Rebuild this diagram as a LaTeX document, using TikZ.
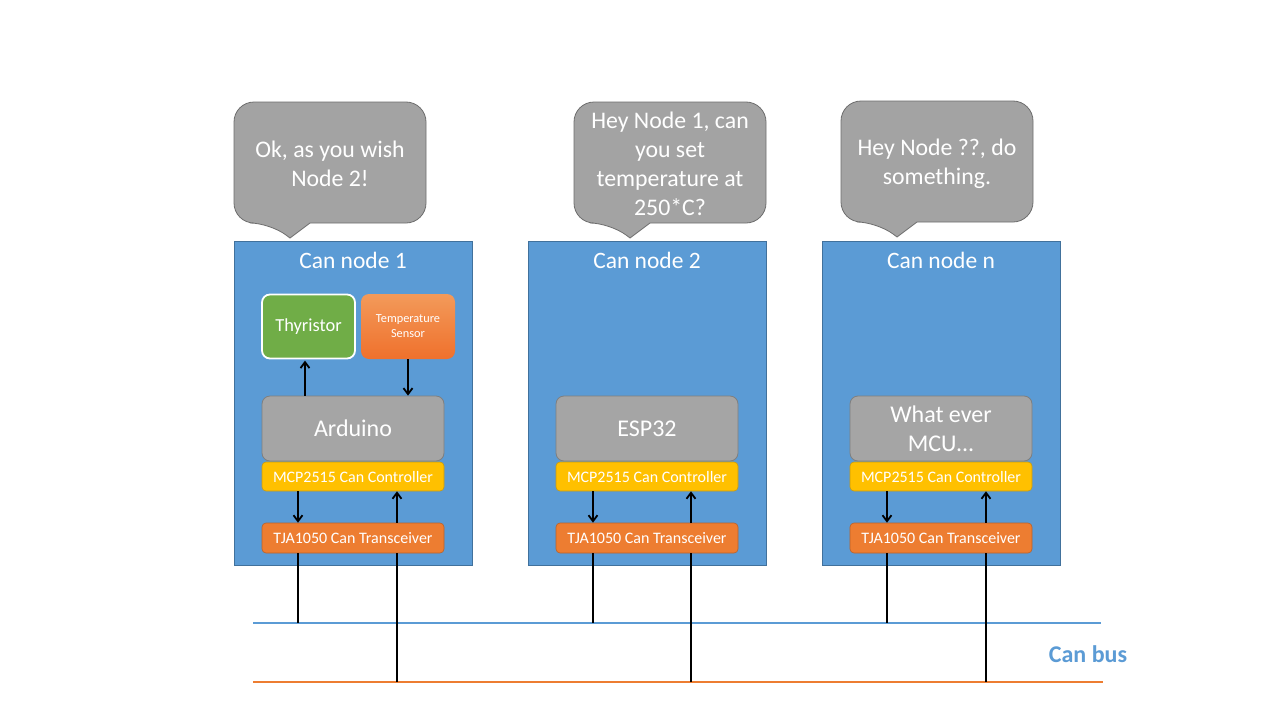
\documentclass[tikz,border=0pt]{standalone}
\usepackage{fontspec}
\setmainfont{Carlito}
\usetikzlibrary{arrows.meta}
\definecolor{nodeblue}{HTML}{5B9BD5}
\definecolor{nodeblueb}{HTML}{41719C}
\definecolor{mgray}{HTML}{A5A5A5}
\definecolor{mgrayb}{HTML}{7F7F7F}
\definecolor{bgray}{HTML}{A3A3A3}
\definecolor{bgrayb}{HTML}{6E6E6E}
\definecolor{myellow}{HTML}{FFC000}
\definecolor{myellowb}{HTML}{C89A10}
\definecolor{morange}{HTML}{ED7D31}
\definecolor{moranget}{HTML}{F39A5A}
\definecolor{morangeb}{HTML}{B8612A}
\definecolor{mgreen}{HTML}{70AD47}
\definecolor{busblue}{HTML}{5B9BD5}
\definecolor{busorange}{HTML}{ED7D31}
\begin{document}
\begin{tikzpicture}[x=1pt,y=-1pt,
  canbox/.style={draw=nodeblueb,fill=nodeblue,line width=1pt},
  title/.style={text=white,font=\fontsize{23.5}{27}\selectfont},
  mcu/.style={draw=mgrayb,fill=mgray,rounded corners=8pt,line width=0.8pt,text=white,align=center,font=\fontsize{24}{29}\selectfont},
  ctrl/.style={draw=myellowb,fill=myellow,rounded corners=4pt,line width=0.6pt,text=white,font=\fontsize{16}{19}\selectfont},
  xcvr/.style={draw=morangeb,fill=morange,rounded corners=4pt,line width=0.6pt,text=white,font=\fontsize{16}{19}\selectfont},
  bubble/.style={draw=bgrayb,fill=bgray,line width=0.8pt},
  btext/.style={text=white,align=center,font=\fontsize{23.8}{29}\selectfont},
  arr/.style={line width=1.8pt,-{Straight Barb[length=6pt,width=9pt]}},
  wire/.style={line width=1.8pt}
]
\useasboundingbox (0,0) rectangle (1280,720);
\fill[white] (0,0) rectangle (1280,720);

% bus lines
\draw[busblue,line width=1.6pt] (253,623) coordinate (bb0) -- (1101,623) coordinate (bb1);
\draw[busorange,line width=1.6pt] (253,682) coordinate (bo0) -- (1103,682) coordinate (bo1);
\node[text=busblue,font=\bfseries\fontsize{24}{28}\selectfont] (busl) at (1088,654) {Can bus};

% speech bubbles
\draw[bubble] (270,223) -- (290,238) -- (310,223) [rounded corners=20pt] -- (426,223) -- (426,102) -- (234,102) -- (234,223) -- cycle;
\node[btext] (b1) at (330,164) {Ok, as you wish\\Node 2!};
\draw[bubble] (610,223) -- (630,238) -- (650,223) [rounded corners=20pt] -- (766,223) -- (766,102) -- (574,102) -- (574,223) -- cycle;
\node[btext] (b2) at (670,164) {Hey Node 1, can\\you set\\temperature at\\250*C?};
\draw[bubble] (877,222) -- (897,237) -- (917,222) [rounded corners=20pt] -- (1033,222) -- (1033,101) -- (841,101) -- (841,222) -- cycle;
\node[btext] (b3) at (937,164) {Hey Node ??, do\\something.};

% can node boxes
\foreach \x/\name/\lab in {234/n1/Can node 1, 528/n2/Can node 2, 822/nn/Can node n}{
  \draw[canbox] (\x,241) rectangle ++(238,324);
  \node[title] (\name t) at (\x+119,260) {\lab};
}

% node 1 internals
\node[draw=white,line width=1.8pt,fill=mgreen,rounded corners=8pt,minimum width=93pt,minimum height=64pt,text=white,font=\fontsize{18.4}{22}\selectfont] (thy) at (308.5,326.5) {\raisebox{-2pt}{Thyristor}};
\node[draw=none,rounded corners=8pt,top color=moranget,bottom color=morange!90!red,minimum width=94pt,minimum height=65pt,text=white,align=center,font=\fontsize{12.3}{15}\selectfont] (temp) at (408,326.5) {\raisebox{-1.5pt}{Temperature}\\\raisebox{-1.5pt}{Sensor}};

\node[mcu,minimum width=182pt,minimum height=65pt] (ard) at (353,428.5) {Arduino};
\node[mcu,minimum width=182pt,minimum height=65pt] (esp) at (647,428.5) {ESP32};
\node[mcu,minimum width=182pt,minimum height=65pt] (wem) at (941,428.5) {What ever\\MCU...};

\foreach \cx/\m in {353/a, 647/b, 941/c}{
  \node[ctrl,minimum width=182pt,minimum height=29pt] (ctl\m) at (\cx,476.5) {MCP2515 Can Controller};
  \node[xcvr,minimum width=182pt,minimum height=30pt] (tja\m) at (\cx,538) {TJA1050 Can Transceiver};
}

% arrows node 1 sensors
\draw[arr] (ard.north -| thy.south) ++(-3.5,0) -- ++(0,-35);
\draw[arr] (temp.south) -- (temp.south |- ard.north);

% controller <-> transceiver arrows and bus wires
\foreach \m/\xl/\xr in {a/298/397, b/593/691, c/887/986}{
  \draw[arr] (ctl\m.south -| \xl,0) -- (tja\m.north -| \xl,0);
  \draw[arr] (tja\m.north -| \xr,0) -- (ctl\m.south -| \xr,0);
  \draw[wire] (tja\m.south -| \xl,0) -- (bb0 -| \xl,0);
  \draw[wire] (tja\m.south -| \xr,0) -- (bo0 -| \xr,0);
}
\end{tikzpicture}
\end{document}
